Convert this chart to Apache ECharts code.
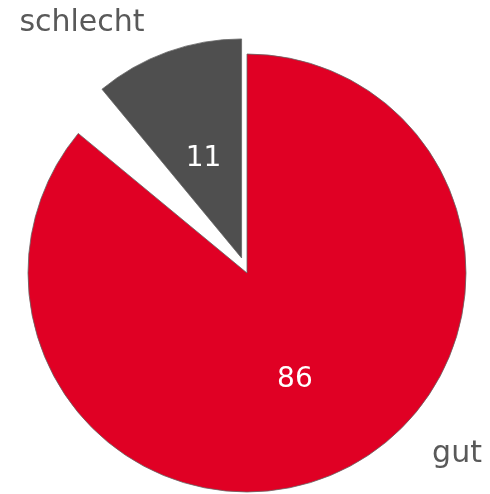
<!DOCTYPE html>
<html>
<head>
<meta charset="utf-8">
<script src="https://cdn.jsdelivr.net/npm/echarts@6/dist/echarts.min.js"></script>
<style>
  html, body { margin: 0; padding: 0; background: #fff; }
  #chart { width: 490px; height: 494px; }
</style>
</head>
<body>
<div id="chart"></div>
<script>
  // slice names and values, clockwise from 12 o'clock
  var categories = ['gut', '', 'schlecht'];
  var values = [86, 3, 11];
  var colors = ['#E00024', 'rgba(0,0,0,0)', '#4F4F4F'];
  // where the category names sit
  var namePos = [[457, 454], null, [82, 23]];

  var myChart = echarts.init(document.getElementById('chart'));

  function buildData (withLabel) {
    return categories.map(function (name, i) {
      var blank = name === '';
      return {
        name: name,
        value: values[i],
        selected: name === 'schlecht',
        itemStyle: {
          color: withLabel ? colors[i] : 'rgba(0,0,0,0)',
          borderColor: blank || !withLabel ? 'rgba(0,0,0,0)' : '#666',
          borderWidth: blank || !withLabel ? 0 : 0.8
        },
        label: { show: !blank }
      };
    });
  }

  var option = {
    animation: false,
    series: [
      {
        type: 'pie',
        center: [247, 273],
        radius: [0, 219],
        startAngle: 90,
        clockwise: true,
        silent: true,
        selectedMode: 'single',
        selectedOffset: 16,
        label: {
          position: 'inside',
          formatter: '{c}',
          color: '#fff',
          fontSize: 28,
          fontFamily: 'DejaVu Sans'
        },
        labelLine: { show: false },
        labelLayout: function (params) {
          // value labels sit a bit lower than echarts' default
          return { dy: params.dataIndex === 2 ? 7 : 5 };
        },
        data: buildData(true)
      },
      {
        type: 'pie',
        center: [247, 273],
        radius: [0, 219],
        startAngle: 90,
        silent: true,
        label: {
          position: 'outside',
          formatter: '{b}',
          color: '#595959',
          fontSize: 30,
          fontFamily: 'DejaVu Sans',
          overflow: 'none',
          width: 200
        },
        labelLine: { show: false },
        labelLayout: function (params) {
          var p = namePos[params.dataIndex];
          if (!p) return {};
          return { x: p[0], y: p[1], align: 'center', verticalAlign: 'middle' };
        },
        data: buildData(false)
      }
    ]
  };

  myChart.setOption(option);
</script>
</body>
</html>
